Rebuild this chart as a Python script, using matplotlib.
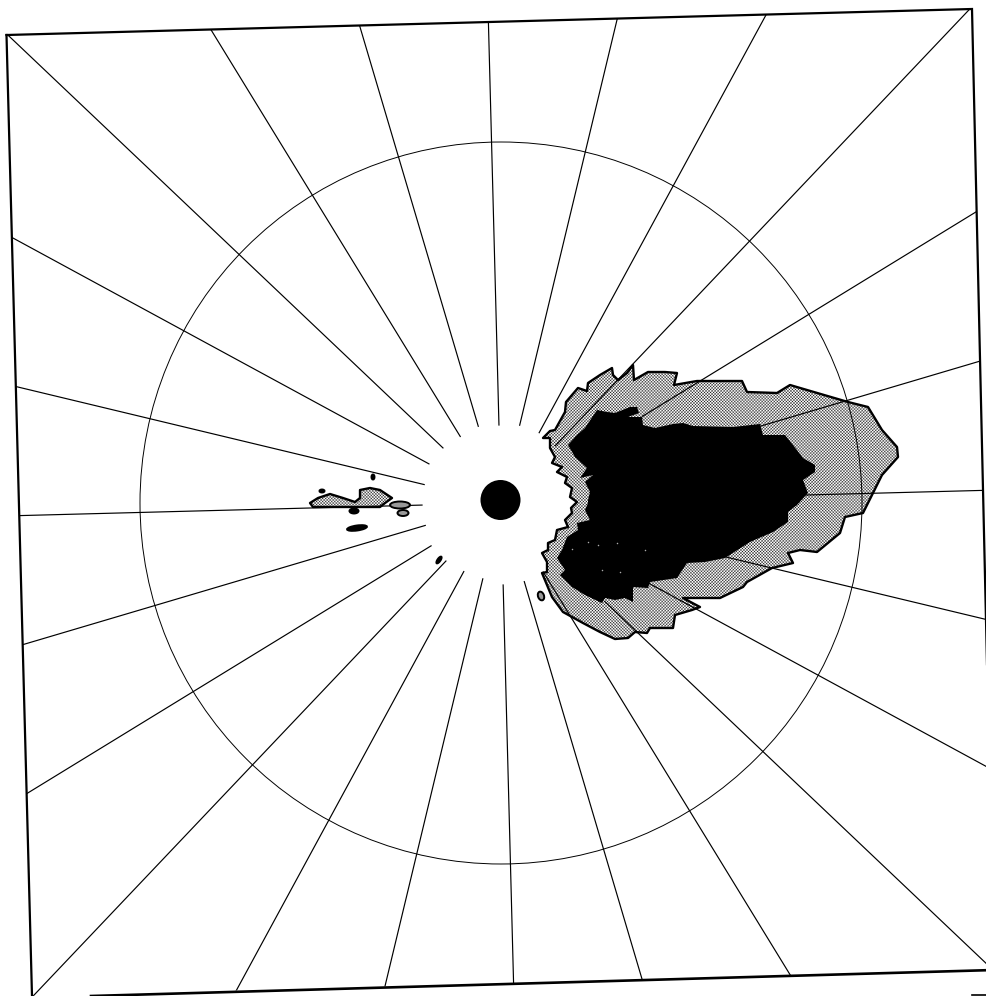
import numpy as np
import matplotlib
matplotlib.use("Agg")
import matplotlib.pyplot as plt
from matplotlib.patches import Polygon, Circle, Ellipse

center = (501, 503)
ring_radius = 361
disk_radius = 20

frame_x = [6.5, 972, 994, 32]
frame_y = [35, 9, 970, 996]

spoke_angles = [1.5 + 15 * i for i in range(24)]
spoke_starts = [305, 270, 166, 79, 80, 80, 78, 80, 78, 80, 82, 79,
                79, 79, 82, 80, 78, 78, 82, 82, 81, 143, 167, 230]

outer_x = [543, 550, 555, 565, 566, 578, 587, 588, 600, 612, 613, 618, 627, 633, 634, 648, 665, 677,
           674, 697, 742, 747, 777, 790, 807, 848, 868, 882, 897, 898, 882, 863, 845, 840,
           817, 800, 788, 793, 772, 747, 743, 720, 683, 700, 692, 675, 673, 650, 647, 635,
           628, 615, 600, 583, 563, 552, 542, 547, 547, 542, 548, 548, 555, 557, 568, 565,
           572, 571, 577, 570, 572, 565, 567, 557, 562, 552, 555, 550, 550]
outer_y = [438, 431, 430, 412, 402, 388, 391, 383, 375, 368, 375, 380, 373, 365, 380, 372, 372, 373,
           385, 381, 381, 392, 393, 385, 390, 402, 407, 430, 447, 457, 475, 513, 517, 533,
           552, 550, 553, 563, 568, 582, 587, 598, 598, 607, 610, 615, 628, 628, 633, 632,
           638, 639, 632, 623, 612, 597, 573, 572, 562, 553, 550, 543, 540, 530, 527, 520,
           513, 508, 502, 497, 488, 483, 477, 472, 467, 463, 457, 448, 438]

core_x = [568, 577, 585, 597, 607, 615, 630, 637, 639, 628, 642, 643, 655, 673, 683, 693, 733, 760, 763,
          785, 793, 803, 815, 815, 803, 808, 797, 788, 788, 773, 750, 725, 705, 687, 677, 650,
          648, 633, 633, 625, 615, 605, 602, 585, 572, 560, 565, 557, 562, 567, 578, 577, 590,
          585, 588, 588, 590, 585, 593, 580, 587, 575]
core_y = [445, 435, 428, 410, 412, 413, 407, 407, 413, 417, 417, 425, 428, 424, 423, 426, 427, 424, 435,
          435, 445, 458, 465, 472, 480, 493, 505, 512, 522, 532, 542, 558, 562, 563, 578, 582,
          588, 587, 602, 598, 600, 598, 603, 595, 587, 575, 570, 558, 550, 537, 530, 523, 520,
          510, 503, 500, 492, 482, 475, 478, 468, 457]

speck_x = [572, 598, 617, 645, 602, 620, 588]
speck_y = [549, 545, 543, 550, 570, 572, 542]

west_x = [310, 318, 330, 343, 355, 360, 360, 370, 380, 392, 385, 380, 340, 313]
west_y = [503, 498, 494, 498, 502, 498, 490, 488, 490, 498, 503, 507, 507, 507]

# small closed contours: x, y, width, height, tilt, filled
spot_x = [400, 403, 354, 357, 322, 373, 439, 541]
spot_y = [505, 513, 511, 528, 491, 477, 560, 596]
spot_w = [20, 11, 9, 20, 5, 3, 8, 9]
spot_h = [7, 6, 5, 5, 3, 5, 3, 6]
spot_tilt = [0, 0, 0, -8, 0, 0, -55, 70]
spot_solid = [False, False, True, True, True, True, True, False]

plt.rcParams["hatch.linewidth"] = 0.3

fig, ax = plt.subplots(figsize=(9.86, 9.96), dpi=100)
fig.subplots_adjust(left=0, right=1, bottom=0, top=1)
ax.set_xlim(0, 986)
ax.set_ylim(996, 0)
ax.axis("off")

clip = Polygon(np.column_stack([frame_x, frame_y]), closed=True, transform=ax.transData, fill=False, lw=0)
ax.add_patch(clip)

# gray contour first, the spokes show through it
ax.fill(outer_x, outer_y, facecolor="white", edgecolor="#222222", hatch="x" * 11, lw=0, zorder=2)
ax.fill(west_x, west_y, facecolor="white", edgecolor="#222222", hatch="x" * 11, lw=0, zorder=2)

for ang, start in zip(spoke_angles, spoke_starts):
    t = np.radians(ang)
    xs = [center[0] + start * np.cos(t), center[0] + 800 * np.cos(t)]
    ys = [center[1] - start * np.sin(t), center[1] - 800 * np.sin(t)]
    line, = ax.plot(xs, ys, color="black", lw=0.85, zorder=3)
    line.set_clip_path(clip)

ax.fill(core_x, core_y, color="black", lw=0, zorder=4)
ax.scatter(speck_x, speck_y, s=1.2, color="#aaaaaa", lw=0, zorder=4.5)
ax.fill(outer_x, outer_y, fill=False, edgecolor="black", lw=1.7, zorder=5, joinstyle="round")
ax.fill(west_x, west_y, fill=False, edgecolor="black", lw=1.7, zorder=5, joinstyle="round")

for x, y, w, h, tilt, solid in zip(spot_x, spot_y, spot_w, spot_h, spot_tilt, spot_solid):
    ax.add_patch(Ellipse((x, y), w, h, angle=tilt, facecolor="black" if solid else "#999999",
                         edgecolor="black", lw=1.4, zorder=5))

ax.add_patch(Circle(center, ring_radius, fill=False, edgecolor="black", lw=0.7, zorder=6))
ax.add_patch(Circle((500.5, 500), disk_radius, color="black", lw=0, zorder=6))

# frame: heavier than the spokes, bottom edge only starts at x=91
ax.plot(frame_x[:3], frame_y[:3], color="black", lw=1.6, zorder=7, solid_joinstyle="miter")
ax.plot([frame_x[0], frame_x[3]], [frame_y[0], frame_y[3]], color="black", lw=1.6, zorder=7)
ax.plot([91, frame_x[2]], [996, frame_y[2]], color="black", lw=1.9, zorder=7)
ax.plot([972, 986], [995, 995], color="black", lw=1.2, zorder=7)

fig.savefig("out.png", dpi=100, facecolor="white")
